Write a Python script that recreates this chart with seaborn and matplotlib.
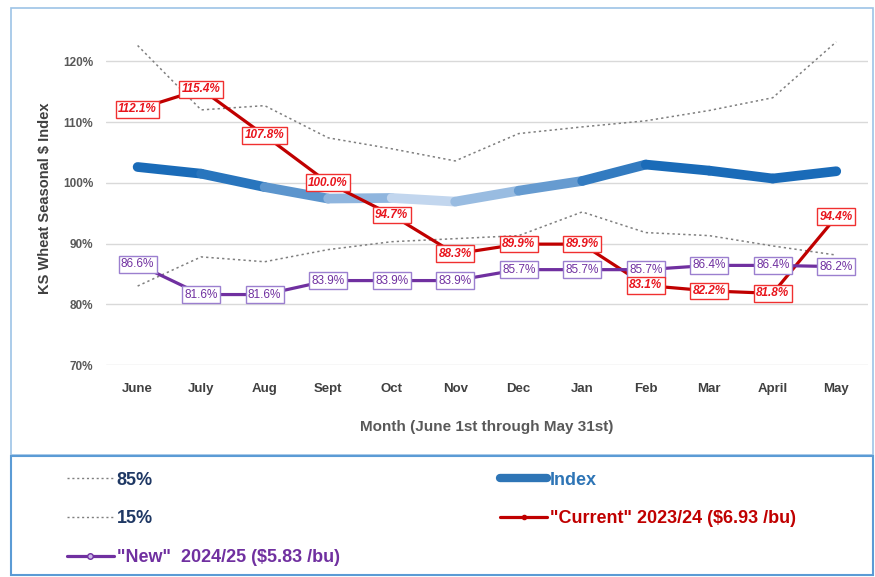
import numpy as np
import pandas as pd
import matplotlib
matplotlib.use("Agg")
import matplotlib.pyplot as plt
from matplotlib.lines import Line2D
from matplotlib.patches import Rectangle
import seaborn as sns

# data
months = ["June", "July", "Aug", "Sept", "Oct", "Nov", "Dec", "Jan", "Feb", "Mar", "April", "May"]
pct85 = [122.6, 112.0, 112.7, 107.4, 105.6, 103.6, 108.1, 109.2, 110.2, 111.9, 114.0, 123.2]
pct15 = [83.0, 87.8, 87.0, 89.0, 90.3, 90.8, 91.3, 95.2, 91.8, 91.3, 89.6, 88.1]
index_vals = [102.6, 101.5, 99.3, 97.4, 97.5, 96.9, 98.7, 100.3, 103.0, 102.0, 100.7, 101.9]
current = [112.1, 115.4, 107.8, 100.0, 94.7, 88.3, 89.9, 89.9, 83.1, 82.2, 81.8, 94.4]
new = [86.6, 81.6, 81.6, 83.9, 83.9, 83.9, 85.7, 85.7, 85.7, 86.4, 86.4, 86.2]

df = pd.DataFrame({"m": np.arange(len(months)), "p85": pct85, "p15": pct15,
                   "idx": index_vals, "cur": current, "new": new})

sns.set_theme(style="white")
plt.rcParams['font.family'] = ['Liberation Sans', 'DejaVu Sans']

fig = plt.figure(figsize=(8.75, 5.77), dpi=100)
ax = fig.add_axes([0.121, 0.3674, 0.871, 0.579])

border = "#5b9bd5"
fig.patches.append(Rectangle((0.013, 0.211), 0.985, 0.776, transform=fig.transFigure,
                             fill=False, edgecolor="#9dc3e6", lw=1.2))
fig.patches.append(Rectangle((0.013, 0.003), 0.985, 0.206, transform=fig.transFigure,
                             fill=False, edgecolor=border, lw=1.5))

dot = (0, (1.5, 2))
sns.lineplot(data=df, x="m", y="p85", ax=ax, color="#7f7f7f", lw=1.1, linestyle=dot)
sns.lineplot(data=df, x="m", y="p15", ax=ax, color="#7f7f7f", lw=1.1, linestyle=dot)

# index line, lighter through the autumn months
dark = np.array([0.10, 0.42, 0.72])
light = np.array([0.78, 0.85, 0.94])
for i in range(len(months) - 1):
    t = 1 - min(abs(i + 0.5 - 4.6) / 3.4, 1)
    c = dark + (light - dark) * t
    ax.plot(df.m[i:i + 2], df.idx[i:i + 2], color=c, lw=7, solid_capstyle="round", zorder=3)

sns.lineplot(data=df, x="m", y="cur", ax=ax, color="#c00000", lw=2.3, zorder=4)
sns.lineplot(data=df, x="m", y="new", ax=ax, color="#7030a0", lw=2.3, zorder=4)

for i, v in enumerate(current):
    ax.text(i, v, f"{v:.1f}%", ha="center", va="center", fontsize=8.5, color="#e8141c",
            fontweight="bold", fontstyle="italic", zorder=6,
            bbox=dict(boxstyle="square,pad=0.2", fc="white", ec="#f03030", lw=1))
for i, v in enumerate(new):
    ax.text(i, v, f"{v:.1f}%", ha="center", va="center", fontsize=8.5, color="#7030a0",
            zorder=5, bbox=dict(boxstyle="square,pad=0.2", fc="white", ec="#9b7fcf", lw=1))

ax.set_xlim(-0.5, 11.5)
ax.set_ylim(70, 125)
ax.set_yticks([70, 80, 90, 100, 110, 120])
ax.set_yticklabels([f"{t}%" for t in [70, 80, 90, 100, 110, 120]], fontsize=8.5,
                   color="#595959", fontweight="bold")
ax.set_xticks(df.m)
ax.set_xticklabels(months, fontsize=9.5, color="#404040", fontweight="bold")
ax.tick_params(axis="x", pad=13, length=0)
ax.tick_params(axis="y", pad=9, length=0)
ax.grid(axis="y", color="#d9d9d9", lw=1)
for s in ax.spines.values():
    s.set_visible(False)
ax.set_xlabel("Month (June 1st through May 31st)", fontsize=11, color="#595959",
              fontweight="bold", labelpad=18)
ax.set_ylabel("KS Wheat Seasonal $ Index", fontsize=10.5, color="#404040",
              fontweight="bold", labelpad=8)

handles = [
    Line2D([], [], color="#7f7f7f", lw=1, linestyle=dot),
    Line2D([], [], color="#7f7f7f", lw=1, linestyle=dot),
    Line2D([], [], color="#7030a0", lw=2.3, marker="o", ms=4, mfc="#c9b8e8", mec="#7030a0"),
    Line2D([], [], color="#2e75b6", lw=6, solid_capstyle="round"),
    Line2D([], [], color="#c00000", lw=2.3, marker="o", ms=3),
]
labels = ["85%", "15%", '"New"  2024/25 ($5.83 /bu)', "Index", '"Current" 2023/24 ($6.93 /bu)']
leg = fig.legend(handles, labels, loc="upper left", bbox_to_anchor=(0.058, 0.211), ncol=2,
                 frameon=False, fontsize=13, handlelength=2.6, handletextpad=0.15,
                 columnspacing=8.9, labelspacing=1.2)
for txt, col in zip(leg.get_texts(), ["#1f3864", "#1f3864", "#7030a0", "#2e75b6", "#c00000"]):
    txt.set_color(col)
    txt.set_fontweight("bold")

fig.savefig("out.png", dpi=100)
